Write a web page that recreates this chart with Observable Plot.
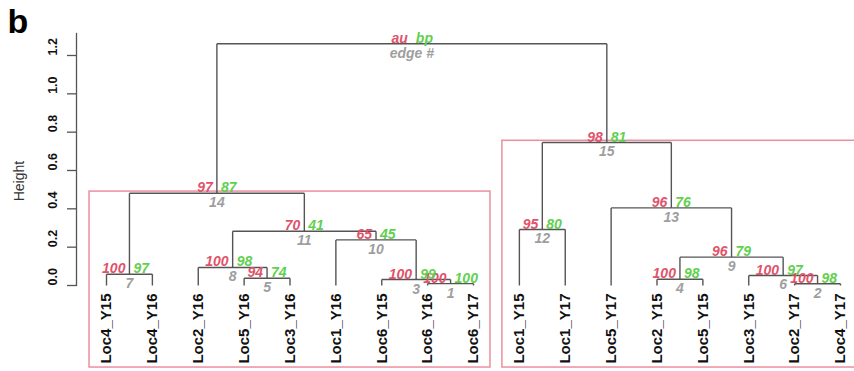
<!DOCTYPE html>
<html>
<head>
<meta charset="utf-8">
<script src="https://cdn.jsdelivr.net/npm/d3@7"></script>
<script src="https://cdn.jsdelivr.net/npm/@observablehq/plot@0.6"></script>
<style>
  html, body { margin: 0; padding: 0; background: #fff; }
  #chart svg { display: block; }
</style>
</head>
<body>
<div id="chart"></div>
<script>
// Leaves in dendrogram order
const leaves = ["Loc4_Y15","Loc4_Y16","Loc2_Y16","Loc5_Y16","Loc3_Y16","Loc1_Y16","Loc6_Y15","Loc6_Y16","Loc6_Y17",
                "Loc1_Y15","Loc1_Y17","Loc5_Y17","Loc2_Y15","Loc5_Y15","Loc3_Y15","Loc2_Y17","Loc4_Y17"];

// Merge steps (edge numbers 1..16); a number refers to an earlier edge
const mergeA = ["Loc6_Y16","Loc2_Y17","Loc6_Y15","Loc2_Y15","Loc5_Y16","Loc3_Y15","Loc4_Y15","Loc2_Y16",4,"Loc1_Y16",8,"Loc1_Y15","Loc5_Y17",7,12,14];
const mergeB = ["Loc6_Y17","Loc4_Y17",1,"Loc5_Y15","Loc3_Y16",2,"Loc4_Y16",5,6,3,10,"Loc1_Y17",9,11,13,15];
const heights = [0.010,0.009,0.031,0.033,0.038,0.052,0.059,0.094,0.148,0.238,0.283,0.292,0.405,0.481,0.746,1.261];

// Approximately unbiased and bootstrap probabilities (%) for edges 1..15
const au = [100,100,100,100,94,100,100,100,96,65,70,95,96,97,98];
const bp = [100,98,99,98,74,97,97,98,79,45,41,80,76,87,81];

const yTicks = [0, 0.2, 0.4, 0.6, 0.8, 1.0, 1.2];
const legendWords = ["au", "bp", "edge #"];

// pvrect settings
const alpha = 95;
const yFloor = -0.437;   // lower limit of the plotting region (height units)
const yCeil = 1.315;
const boxPadX = 0.37;
const boxPadY = 0.009;

const colAU = "#DF536B", colBP = "#61D04F", colEdge = "#9E9E9E";
const font = "'Liberation Sans', Arial, Helvetica, sans-serif";

// Build node positions
const nodes = [];
const ref = r => typeof r === "number" ? nodes[r - 1] : {x: leaves.indexOf(r), h: 0, members: [leaves.indexOf(r)]};
heights.forEach((h, i) => {
  const a = ref(mergeA[i]), b = ref(mergeB[i]);
  nodes.push({edge: i + 1, a, b, x: (a.x + b.x) / 2, h, members: [...a.members, ...b.members],
              au: au[i], bp: bp[i]});
});
const root = nodes[nodes.length - 1];
const inner = nodes.slice(0, -1);

// Dendrogram segments
const segs = [];
for (const n of nodes) {
  segs.push({x1: n.a.x, x2: n.b.x, y1: n.h, y2: n.h});
  segs.push({x1: n.a.x, x2: n.a.x, y1: n.a.h, y2: n.h});
  segs.push({x1: n.b.x, x2: n.b.x, y1: n.b.h, y2: n.h});
}

// Boxes around the largest clusters with au >= alpha
const boxes = [];
const covered = new Set();
for (let i = inner.length - 1; i >= 0; i--) {
  const n = inner[i];
  if (n.au >= alpha && !n.members.some(m => covered.has(m))) {
    n.members.forEach(m => covered.add(m));
    boxes.push({x1: d3.min(n.members) - boxPadX, x2: d3.max(n.members) + boxPadX,
                y1: yFloor + boxPadY, y2: n.h + boxPadY});
  }
}

const lbl = {fontFamily: font, fontSize: 14, fontWeight: "bold", fontStyle: "italic"};

const chart = Plot.plot({
  width: 854,
  height: 371,
  marginLeft: 76,
  marginRight: 0,
  marginTop: 33,
  marginBottom: 86,
  style: {background: "#fff", fontFamily: font, overflow: "visible"},
  x: {domain: [0, leaves.length - 1], range: [106, 840], axis: null},
  y: {domain: [0, 1.2], range: [285, 55], axis: null},
  marks: [
    // y axis
    Plot.frame({anchor: "left", stroke: "#555", strokeWidth: 1.3}),
    Plot.axisY({ticks: yTicks, tickSize: 9, tickFormat: () => "", label: null, stroke: "#555", strokeWidth: 1.3}),
    Plot.text(yTicks, {y: d => d, text: d => d.toFixed(1), frameAnchor: "left", dx: -24, rotate: -90,
                       fontSize: 12.5, fontWeight: "bold", fill: "#111"}),
    Plot.text(["Height"], {y: () => (yFloor + yCeil) / 2, frameAnchor: "left", dx: -57, rotate: -90,
                           fontSize: 14, fill: "#333"}),
    // panel letter
    Plot.text(["b"], {frameAnchor: "top-left", dx: -69, dy: -25, fontSize: 34, fontWeight: "bold", fill: "#000"}),
    // pvrect boxes
    Plot.rect(boxes, {x1: "x1", x2: "x2", y1: "y1", y2: "y2", fill: "none", stroke: colAU,
                      strokeOpacity: 0.65, strokeWidth: 1.5}),
    // tree
    Plot.link(segs, {x1: "x1", y1: "y1", x2: "x2", y2: "y2", stroke: "#555", strokeWidth: 1.4}),
    // leaf labels
    Plot.text(leaves, {x: (d, i) => i, y: () => 0, rotate: -90, textAnchor: "end", dy: 8,
                       fontSize: 15, fontWeight: "bold", fill: "#111"}),
    // edge labels
    Plot.text(inner, {x: "x", y: "h", text: "au", textAnchor: "end", lineAnchor: "bottom", dx: -4, dy: -1,
                      fill: colAU, ...lbl}),
    Plot.text(inner, {x: "x", y: "h", text: "bp", textAnchor: "start", lineAnchor: "bottom", dx: 4, dy: -1,
                      fill: colBP, ...lbl}),
    Plot.text(inner, {x: "x", y: "h", text: "edge", textAnchor: "middle", lineAnchor: "top", dy: 4,
                      fill: colEdge, ...lbl}),
    // legend at the root
    Plot.text([root], {x: "x", y: "h", text: () => legendWords[0], textAnchor: "end", lineAnchor: "bottom",
                       dx: -4, dy: -1, fill: colAU, ...lbl}),
    Plot.text([root], {x: "x", y: "h", text: () => legendWords[1], textAnchor: "start", lineAnchor: "bottom",
                       dx: 4, dy: -1, fill: colBP, ...lbl}),
    Plot.text([root], {x: "x", y: "h", text: () => legendWords[2], textAnchor: "middle", lineAnchor: "top",
                       dy: 4, fill: colEdge, ...lbl})
  ]
});
document.getElementById("chart").appendChild(chart);
</script>
</body>
</html>
